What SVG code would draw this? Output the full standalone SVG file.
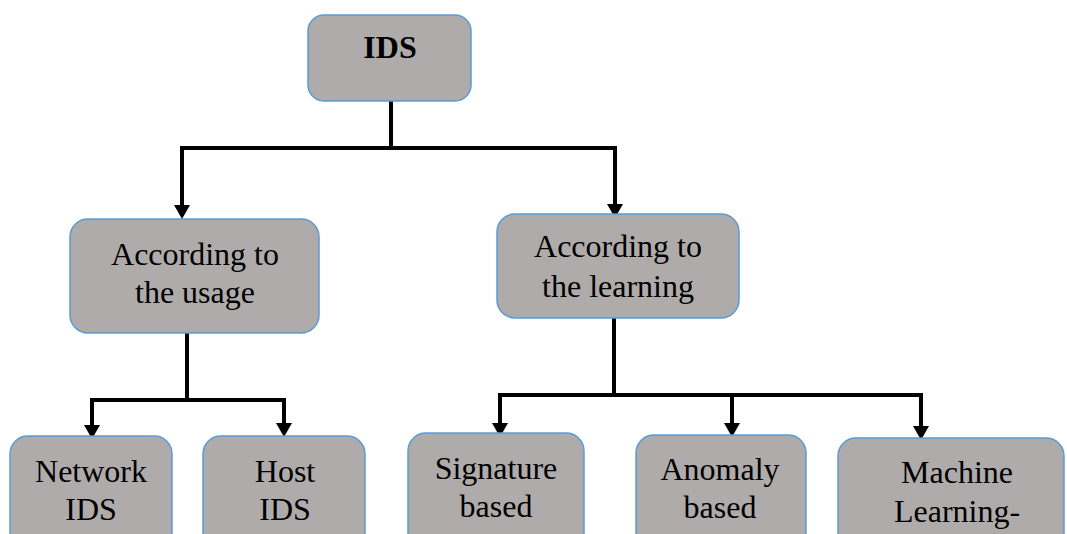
<svg xmlns="http://www.w3.org/2000/svg" width="1067" height="534" viewBox="0 0 1067 534">
  <style>
    .box { fill: #AFABAB; stroke: #5B9BD5; stroke-width: 1.5; }
    .t { font-family: 'Liberation Serif', 'Times New Roman', serif; font-size: 32px; fill: #000; text-anchor: middle; }
    .bold { font-weight: bold; }
    .conn { fill: none; stroke: #000; stroke-width: 4; stroke-linejoin: miter; }
    .arr { marker-end: url(#ah); }
  </style>
  <defs>
    <marker id="ah" markerUnits="userSpaceOnUse" viewBox="0 -9 15 18" markerWidth="15" markerHeight="18" refX="0" refY="0" orient="auto">
      <path d="M0,-8 L14,0 L0,8 z" fill="#000"/>
    </marker>
  </defs>
  <rect width="1067" height="534" fill="#fff"/>

  <g id="connectors">
    <path class="conn" d="M391,101 V148"/>
    <path class="conn arr" d="M391,148 H182 V205"/>
    <path class="conn arr" d="M391,148 H615 V204"/>
    <path class="conn" d="M187,333 V400"/>
    <path class="conn arr" d="M187,400 H92 V425"/>
    <path class="conn arr" d="M187,400 H284 V423"/>
    <path class="conn" d="M614,318 V395"/>
    <path class="conn arr" d="M614,395 H500 V423"/>
    <path class="conn arr" d="M614,395 H732 V423"/>
    <path class="conn arr" d="M614,395 H921 V426"/>
  </g>

  <g id="node-ids">
    <rect class="box" x="308" y="15" width="163" height="86" rx="16"/>
    <text class="t bold" x="390" y="58">IDS</text>
  </g>
  <g id="node-usage">
    <rect class="box" x="70" y="219" width="249" height="114" rx="18"/>
    <text class="t" x="195" y="265">According to</text>
    <text class="t" x="195" y="303">the usage</text>
  </g>
  <g id="node-learning">
    <rect class="box" x="497" y="214" width="242" height="104" rx="18"/>
    <text class="t" x="618" y="257">According to</text>
    <text class="t" x="618" y="297">the learning</text>
  </g>
  <g id="node-network">
    <rect class="box" x="10" y="436" width="162" height="130" rx="18"/>
    <text class="t" x="91" y="482">Network</text>
    <text class="t" x="91" y="520">IDS</text>
  </g>
  <g id="node-host">
    <rect class="box" x="203" y="436" width="162" height="130" rx="18"/>
    <text class="t" x="285" y="482">Host</text>
    <text class="t" x="285" y="520">IDS</text>
  </g>
  <g id="node-signature">
    <rect class="box" x="408" y="433" width="176" height="130" rx="18"/>
    <text class="t" x="496" y="479">Signature</text>
    <text class="t" x="496" y="517">based</text>
  </g>
  <g id="node-anomaly">
    <rect class="box" x="636" y="435" width="170" height="130" rx="18"/>
    <text class="t" x="720" y="480">Anomaly</text>
    <text class="t" x="720" y="518">based</text>
  </g>
  <g id="node-ml">
    <rect class="box" x="838" y="438" width="226" height="130" rx="18"/>
    <text class="t" x="957" y="483">Machine</text>
    <text class="t" x="957" y="522">Learning-</text>
  </g>
</svg>
